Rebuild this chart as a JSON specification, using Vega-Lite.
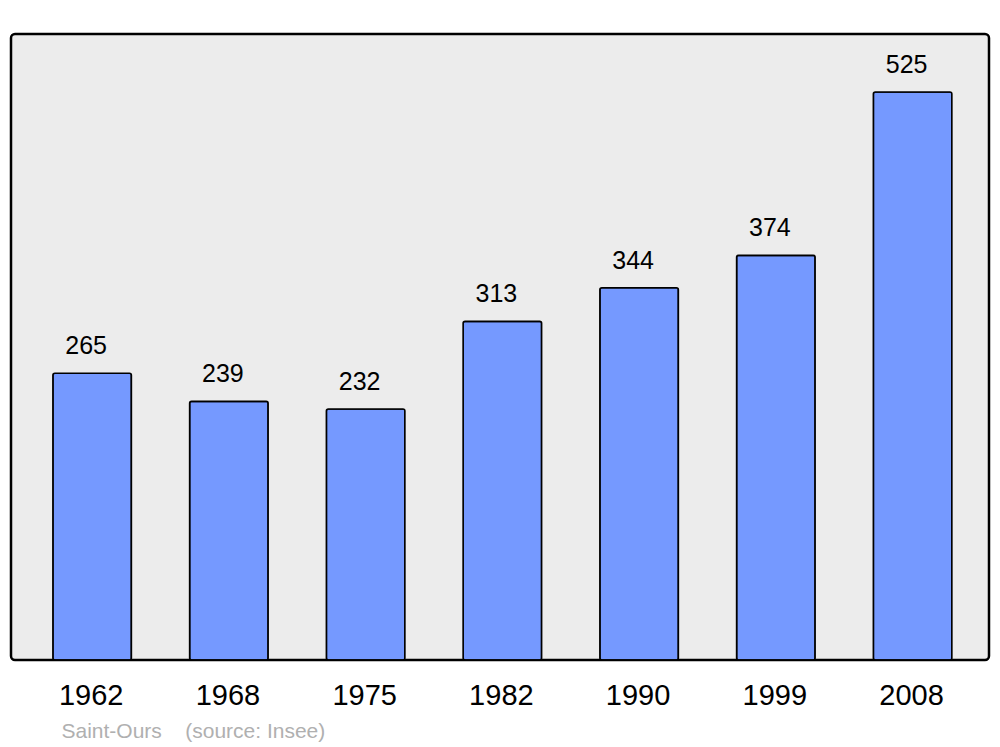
{
  "$schema": "https://vega.github.io/schema/vega-lite/v6.json",
  "width": 978,
  "height": 626,
  "autosize": {"type": "none"},
  "padding": {"left": 11, "top": 34, "right": 11, "bottom": 87},
  "background": "#ffffff",
  "view": {"fill": "#ececec", "stroke": "#000000", "strokeWidth": 2.5, "cornerRadius": 4},
  "data": {"values": [
    {"year": "1962", "pop": 265},
    {"year": "1968", "pop": 239},
    {"year": "1975", "pop": 232},
    {"year": "1982", "pop": 313},
    {"year": "1990", "pop": 344},
    {"year": "1999", "pop": 374},
    {"year": "2008", "pop": 525}
  ]},
  "encoding": {
    "x": {
      "field": "year", "type": "ordinal", "sort": null,
      "scale": {"paddingInner": 0.426, "paddingOuter": 0.289, "align": 0.53},
      "axis": {
        "domain": false, "ticks": false, "labelAngle": 0,
        "labelFont": "Liberation Sans", "labelFontSize": 29, "labelColor": "#000000",
        "labelBaseline": "alphabetic", "labelPadding": 44, "labelOffset": -1,
        "title": "Saint-Ours\u00a0\u00a0\u00a0\u00a0(source: Insee)",
        "titleFont": "Liberation Sans", "titleFontSize": 21, "titleFontWeight": "normal",
        "titleColor": "#b0b0b0", "titleAnchor": "start", "titleAlign": "left",
        "titleX": 50, "titleY": 77, "titleBaseline": "alphabetic"
      }
    },
    "y": {
      "field": "pop", "type": "quantitative",
      "scale": {"domain": [0, 578.6], "nice": false, "zero": true},
      "axis": null
    }
  },
  "layer": [
    {
      "mark": {"type": "bar", "fill": "#7599ff", "stroke": "#000000", "strokeWidth": 1.6, "cornerRadius": 2}
    },
    {
      "mark": {"type": "text", "font": "Liberation Sans", "fontSize": 25, "color": "#000000", "baseline": "alphabetic", "dy": -19, "dx": -6},
      "encoding": {"text": {"field": "pop", "type": "quantitative"}}
    }
  ]
}
